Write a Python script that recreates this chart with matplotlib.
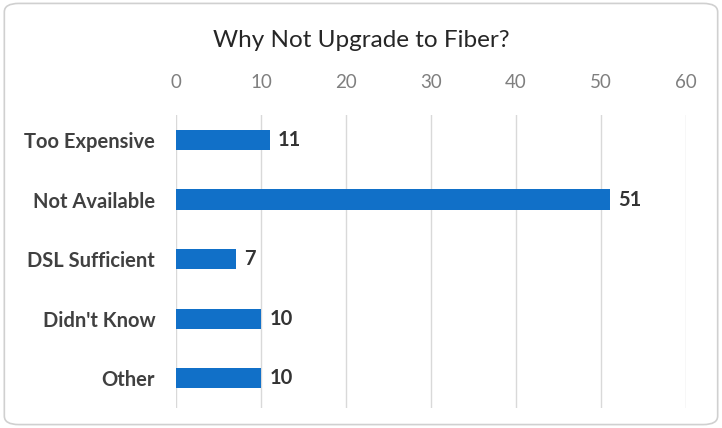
import matplotlib.pyplot as plt
from matplotlib.patches import FancyBboxPatch

# chart data
reasons = ['Too Expensive', 'Not Available', 'DSL Sufficient', "Didn't Know", 'Other']
counts = [11, 51, 7, 10, 10]
ticks = [0, 10, 20, 30, 40, 50, 60]

plt.rcParams['font.family'] = ['Lato', 'DejaVu Sans']

fig = plt.figure(figsize=(7.22, 4.28), dpi=100)
ax = fig.add_axes([0.2438, 0.0467, 0.7064, 0.6846])

# rounded frame around the whole chart
frame = FancyBboxPatch((0.006, 0.008), 0.988, 0.984, boxstyle='round,pad=0,rounding_size=0.02',
                       transform=fig.transFigure, facecolor='white', edgecolor='#d0d0d0',
                       linewidth=1.2, zorder=-10)
fig.patches.append(frame)

y = range(len(reasons))
bars = ax.barh(y, counts, height=0.34, color='#1170c8', zorder=3)

for yi, v in zip(y, counts):
    ax.annotate(str(v), (v, yi), xytext=(6, 0), textcoords='offset points',
                va='center', ha='left', fontsize=14.5, fontweight='bold', color='#333333')

ax.set_xlim(0, 60)
ax.set_ylim(4.5, -0.42)
ax.set_xticks(ticks)
ax.xaxis.tick_top()
ax.tick_params(axis='x', length=0, pad=17, labelsize=13.5, labelcolor='#7f7f7f')
ax.set_yticks(list(y))
ax.set_yticklabels(reasons, fontsize=14.5, fontweight='bold', color='#404040')
ax.tick_params(axis='y', length=0, pad=15)
ax.grid(axis='x', color='#d9d9d9', linewidth=1, zorder=0)
for s in ax.spines.values():
    s.set_visible(False)

fig.text(0.500, 0.905, 'Why Not Upgrade to Fiber?', ha='center', va='center',
         fontsize=17.5, color='#262626')

fig.savefig('out.png', dpi=100)
